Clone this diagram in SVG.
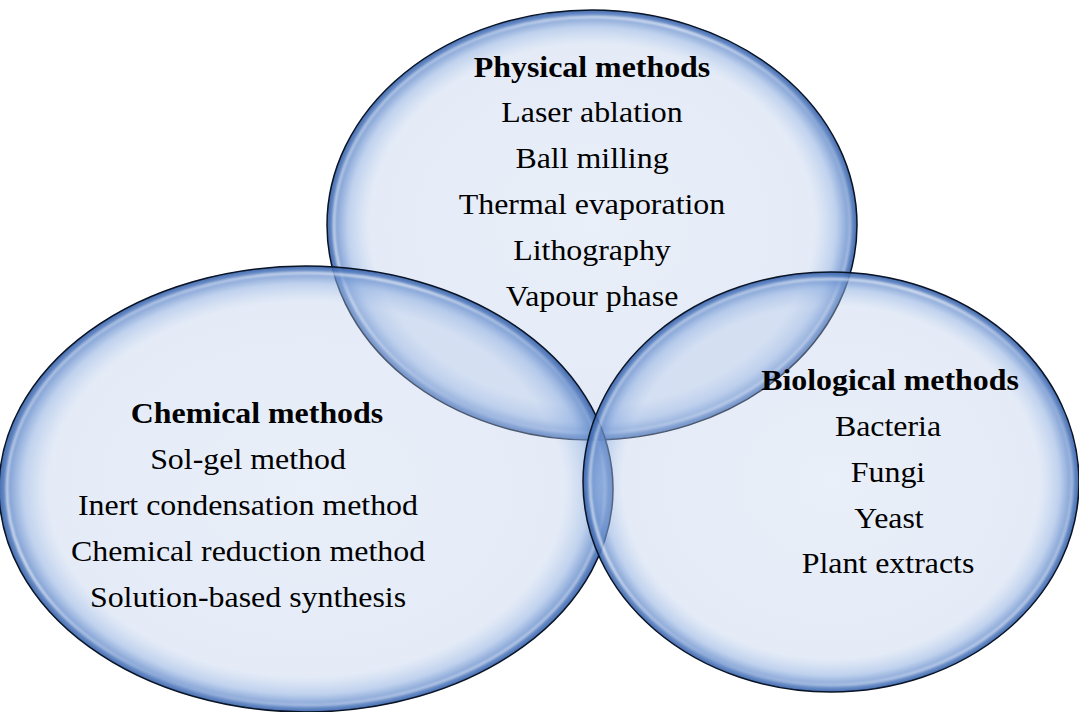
<svg xmlns="http://www.w3.org/2000/svg" width="1079" height="712" viewBox="0 0 1079 712">
  <style>
    .t { font-family: "Liberation Serif", "Times New Roman", serif; font-size: 29px; fill: #000; text-anchor: middle; }
    .b { font-weight: bold; }
    .bub { fill: url(#bubble); stroke: #0a1424; stroke-width: 1.5; }
    .gloss { fill: none; stroke: url(#glossGrad); stroke-width: 2.5; filter: url(#soft); }
  </style>
  <defs>
    <radialGradient id="bubble" cx="0.5" cy="0.5" r="0.5">
      <stop offset="0" stop-color="#c0d0ec" stop-opacity="0.34"/>
      <stop offset="0.84" stop-color="#b8cbea" stop-opacity="0.38"/>
      <stop offset="0.92" stop-color="#8eaee0" stop-opacity="0.56"/>
      <stop offset="0.97" stop-color="#5f87c8" stop-opacity="0.8"/>
      <stop offset="1" stop-color="#3a64ab" stop-opacity="0.95"/>
    </radialGradient>
    <linearGradient id="glossGrad" x1="0" y1="0" x2="1" y2="1">
      <stop offset="0" stop-color="#ffffff" stop-opacity="0.2"/>
      <stop offset="0.35" stop-color="#ffffff" stop-opacity="0.75"/>
      <stop offset="0.6" stop-color="#ffffff" stop-opacity="0.1"/>
      <stop offset="1" stop-color="#ffffff" stop-opacity="0.7"/>
    </linearGradient>
    <filter id="soft" x="-5%" y="-5%" width="110%" height="110%">
      <feGaussianBlur stdDeviation="1.2"/>
    </filter>
  </defs>
  <rect width="1079" height="712" fill="#ffffff"/>

  <g id="node-physical">
    <ellipse class="bub" cx="592" cy="225" rx="265" ry="215"/>
    <ellipse class="gloss" cx="592" cy="225" rx="258" ry="208"/>
    <text class="t b" transform="translate(592,77) scale(1.1,1)">Physical methods</text>
    <text class="t" transform="translate(592,122) scale(1.1,1)">Laser ablation</text>
    <text class="t" transform="translate(592,168) scale(1.1,1)">Ball milling</text>
    <text class="t" transform="translate(592,214) scale(1.1,1)">Thermal evaporation</text>
    <text class="t" transform="translate(592,260) scale(1.1,1)">Lithography</text>
    <text class="t" transform="translate(592,306) scale(1.1,1)">Vapour phase</text>
  </g>

  <g id="node-chemical">
    <ellipse class="bub" cx="306" cy="489" rx="307" ry="223"/>
    <ellipse class="gloss" cx="306" cy="489" rx="299" ry="216"/>
    <text class="t b" transform="translate(257,423) scale(1.1,1)">Chemical methods</text>
    <text class="t" transform="translate(248,469) scale(1.1,1)">Sol-gel method</text>
    <text class="t" transform="translate(248,515) scale(1.1,1)">Inert condensation method</text>
    <text class="t" transform="translate(248,561) scale(1.1,1)">Chemical reduction method</text>
    <text class="t" transform="translate(248,607) scale(1.1,1)">Solution-based synthesis</text>
  </g>

  <g id="node-biological">
    <ellipse class="bub" cx="831" cy="482" rx="248" ry="210"/>
    <ellipse class="gloss" cx="831" cy="482" rx="241" ry="203"/>
    <text class="t b" transform="translate(890,390) scale(1.1,1)">Biological methods</text>
    <text class="t" transform="translate(888,436) scale(1.1,1)">Bacteria</text>
    <text class="t" transform="translate(888,482) scale(1.1,1)">Fungi</text>
    <text class="t" transform="translate(889,528) scale(1.1,1)">Yeast</text>
    <text class="t" transform="translate(888,573) scale(1.1,1)">Plant extracts</text>
  </g>

  <g id="connectors"/>
</svg>
